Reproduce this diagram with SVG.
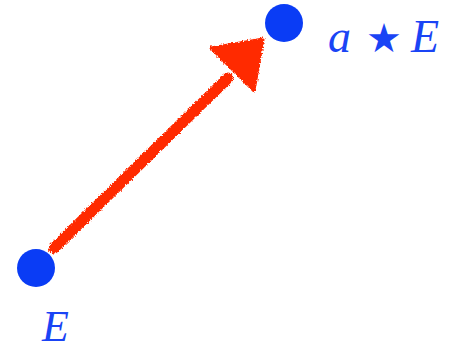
<svg xmlns="http://www.w3.org/2000/svg" width="462" height="353" viewBox="0 0 462 353">
<defs>
<filter id="rough" x="-10%" y="-10%" width="120%" height="120%">
<feTurbulence type="fractalNoise" baseFrequency="0.6" numOctaves="2" seed="3" result="n"/>
<feDisplacementMap in="SourceGraphic" in2="n" scale="4" xChannelSelector="R" yChannelSelector="G"/>
</filter>
<style>
.dot{fill:#0a3cf5}
.lbl{font-family:"Liberation Serif",serif;font-style:italic;font-size:46px;fill:#1a44f5}
.sym{font-family:"DejaVu Sans",sans-serif;font-size:40px;fill:#1a44f5}
.arrow{stroke:#ff2a00;fill:#ff2a00}
</style>
</defs>
<rect width="462" height="353" fill="#fff"/>
<g id="connectors" filter="url(#rough)">
<line class="arrow" x1="54" y1="248" x2="228" y2="78" stroke-width="11" stroke-linecap="round"/>
<polygon class="arrow" points="211,48 263,39 254,91" stroke-width="3" stroke-linejoin="round"/>
</g>
<g id="E">
<circle class="dot" cx="36" cy="268" r="19"/>
<text class="lbl" x="42" y="341" style="font-size:44px">E</text>
</g>
<g id="aE">
<circle class="dot" cx="284" cy="23" r="19"/>
<text class="lbl" x="328" y="52">a</text>
<text class="sym" x="366" y="52">★</text>
<text class="lbl" x="411" y="52">E</text>
</g>
</svg>
